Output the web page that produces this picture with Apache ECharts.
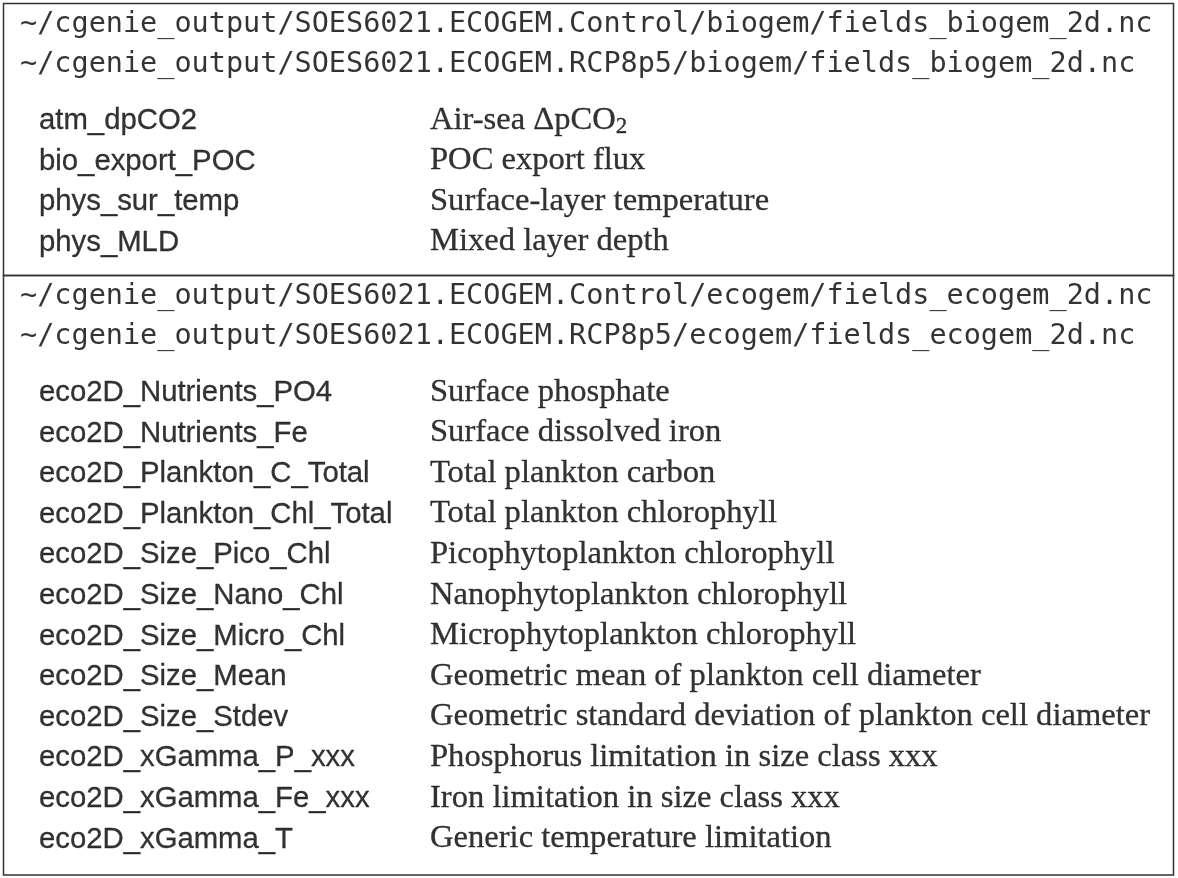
<!DOCTYPE html>
<html>
<head>
<meta charset="utf-8">
<title>cGENIE output fields</title>
<script src="https://cdn.jsdelivr.net/npm/echarts@6/dist/echarts.min.js"></script>
<style>
  html, body { margin: 0; padding: 0; background: #fff; }
  #chart { width: 1178px; height: 878px; }
</style>
</head>
<body>
<div id="chart"></div>
<script>
// 表格内容
const biogemFiles = [
  '~/cgenie_output/SOES6021.ECOGEM.Control/biogem/fields_biogem_2d.nc',
  '~/cgenie_output/SOES6021.ECOGEM.RCP8p5/biogem/fields_biogem_2d.nc'
];
const biogemFields = ['atm_dpCO2', 'bio_export_POC', 'phys_sur_temp', 'phys_MLD'];
const biogemDescriptions = [
  'Air-sea ΔpCO{sub|2}',
  'POC export flux',
  'Surface-layer temperature',
  'Mixed layer depth'
];

const ecogemFiles = [
  '~/cgenie_output/SOES6021.ECOGEM.Control/ecogem/fields_ecogem_2d.nc',
  '~/cgenie_output/SOES6021.ECOGEM.RCP8p5/ecogem/fields_ecogem_2d.nc'
];
const ecogemFields = [
  'eco2D_Nutrients_PO4', 'eco2D_Nutrients_Fe', 'eco2D_Plankton_C_Total',
  'eco2D_Plankton_Chl_Total', 'eco2D_Size_Pico_Chl', 'eco2D_Size_Nano_Chl',
  'eco2D_Size_Micro_Chl', 'eco2D_Size_Mean', 'eco2D_Size_Stdev',
  'eco2D_xGamma_P_xxx', 'eco2D_xGamma_Fe_xxx', 'eco2D_xGamma_T'
];
const ecogemDescriptions = [
  'Surface phosphate', 'Surface dissolved iron', 'Total plankton carbon',
  'Total plankton chlorophyll', 'Picophytoplankton chlorophyll',
  'Nanophytoplankton chlorophyll', 'Microphytoplankton chlorophyll',
  'Geometric mean of plankton cell diameter',
  'Geometric standard deviation of plankton cell diameter',
  'Phosphorus limitation in size class xxx', 'Iron limitation in size class xxx',
  'Generic temperature limitation'
];

(function() {
  'use strict';

  // 版式参数（像素）
  const boxLeft = 3.5, boxWidth = 1170;
  const sections = [
    { top: 3.5, height: 272, files: biogemFiles, fields: biogemFields, desc: biogemDescriptions },
    { top: 275.5, height: 599.5, files: ecogemFiles, fields: ecogemFields, desc: ecogemDescriptions }
  ];
  const headerPitch = 40.5;
  const rowPitch = 40.6;
  const headerOffset = 21;
  const headerGap = 55;
  const colMono = 16.5, colField = 35.5, colDesc = 426.5;

  const monoFont = { fontFamily: 'DejaVu Sans Mono', fontSize: 28.5, color: '#000' };
  const sansFont = { fontFamily: 'Liberation Sans', fontSize: 29.3, color: '#000', textBorderColor: '#000', textBorderWidth: 0.3, offset: [0, 1] };
  const serifFont = { fontFamily: 'Liberation Serif', fontSize: 32.6, color: '#000', textBorderColor: '#000', textBorderWidth: 0.3 };

  const grids = [], xAxes = [], yAxes = [], series = [];

  sections.forEach((s, i) => {
    grids.push({
      left: boxLeft, top: s.top, width: boxWidth, height: s.height,
      show: true, borderColor: '#333', borderWidth: 1.5, backgroundColor: 'transparent'
    });
    xAxes.push({ type: 'value', gridIndex: i, min: 0, max: boxWidth, show: false });
    yAxes.push({ type: 'value', gridIndex: i, min: 0, max: s.height, inverse: true, show: false });

    const headerY = s.files.map((f, k) => headerOffset + k * headerPitch);
    const rowStart = headerY[headerY.length - 1] + headerGap;
    const rowY = s.fields.map((f, k) => rowStart + k * rowPitch);

    const mk = (name, col, ys, texts, font) => ({
      name: name,
      type: 'scatter',
      xAxisIndex: i,
      yAxisIndex: i,
      symbolSize: 0,
      silent: true,
      data: texts.map((t, k) => [col, ys[k], t]),
      label: Object.assign({
        show: true,
        position: 'right',
        distance: 0,
        lineHeight: 36,
        formatter: p => p.value[2],
        rich: {
          sub: {
            fontFamily: 'Liberation Serif', fontSize: 23, lineHeight: 22,
            verticalAlign: 'bottom', color: '#000',
            textBorderColor: '#000', textBorderWidth: 0.3
          }
        }
      }, font)
    });

    series.push(mk('files' + i, colMono, headerY, s.files, monoFont));
    series.push(mk('fields' + i, colField, rowY, s.fields, sansFont));
    series.push(mk('desc' + i, colDesc, rowY, s.desc, serifFont));
  });

  const chart = echarts.init(document.getElementById('chart'));
  chart.setOption({
    animation: false,
    backgroundColor: '#fff',
    grid: grids,
    xAxis: xAxes,
    yAxis: yAxes,
    series: series
  });
  window.addEventListener('resize', () => chart.resize());
})();
</script>
</body>
</html>
